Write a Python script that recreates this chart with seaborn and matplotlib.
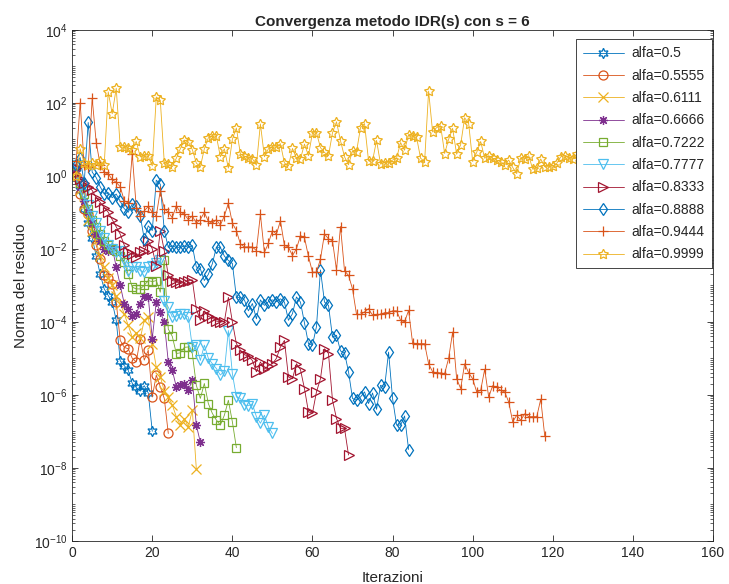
import numpy as np
import pandas as pd
import matplotlib
matplotlib.use("Agg")
import matplotlib.pyplot as plt
from matplotlib.ticker import LogLocator, NullFormatter
import seaborn as sns

# legenda
alfa_labels = ['alfa=0.5', 'alfa=0.5555', 'alfa=0.6111', 'alfa=0.6666', 'alfa=0.7222',
               'alfa=0.7777', 'alfa=0.8333', 'alfa=0.8888', 'alfa=0.9444', 'alfa=0.9999']

# esponenti (log10) della norma del residuo, iterazioni 1..N
exp_05 = [0.2, -0.4, -0.9, -1.3, -1.7, -2.2, -2.7, -3.1, -3.28, -3.46, -3.96, -5.07, -5.2,
          -5.33, -5.69, -5.8, -5.9, -5.75, -5.95, -7.0]

exp_05555 = [0.0, -0.5, -0.9, -1.04, -1.5, -1.9, -2.27, -2.73, -2.8, -2.96, -3.46, -4.51, -4.7,
             -4.74, -5.0, -5.1, -4.46, -5.05, -4.78, -6.06, -5.46, -5.78, -6.1, -7.06]

exp_06111 = [0.1, -0.4, -0.8, -1.2, -1.5, -1.8, -2.2, -2.5, -2.8, -3.0, -3.3, -3.5, -3.78,
             -4.1, -4.42, -4.3, -4.45, -3.96, -3.87, -4.6, -5.24, -5.5, -5.9, -6.06, -6.28,
             -6.6, -6.83, -6.65, -6.88, -6.42, -8.03]

exp_06666 = [0.2, -0.3, -0.7, -1.0, -1.3, -1.6, -1.8, -2.0, -2.05, -1.96, -2.5, -3.0, -3.5,
             -3.64, -3.83, -3.78, -3.5, -3.3, -3.33, -4.46, -3.46, -3.73, -4.01, -5.1, -5.33,
             -5.78, -5.74, -5.7, -5.87, -5.6, -6.83, -7.3]

exp_07222 = [0.3, -0.2, -0.5, -0.9, -1.2, -1.4, -1.6, -1.8, -1.9, -2.0, -2.05, -2.2, -2.37,
             -2.7, -3.05, -3.1, -3.1, -3.0, -2.87, -2.9, -2.87, -3.19, -2.32, -4.2, -4.4,
             -4.87, -4.85, -4.7, -4.69, -4.87, -5.74, -6.1, -5.69, -6.24, -6.51, -6.69, -6.83,
             -6.56, -6.15, -6.74, -7.45]

exp_07777 = [0.3, -0.2, -0.5, -0.8, -1.1, -1.3, -1.5, -1.7, -1.9, -2.0, -2.1, -2.05, -2.3,
             -2.6, -2.5, -2.5, -2.6, -2.64, -2.5, -2.46, -2.4, -2.32, -3.42, -3.6, -3.87,
             -3.85, -3.78, -3.8, -3.87, -4.69, -4.64, -5.06, -4.64, -5.0, -5.15, -5.28, -5.46,
             -5.35, -4.24, -5.42, -6.06, -6.1, -6.28, -6.3, -6.25, -6.6, -6.78, -6.56, -6.88,
             -7.06]

exp_08333 = [0.2, -0.1, -0.2, -0.3, -0.4, -0.6, -0.73, -0.87, -1.0, -1.2, -1.4, -1.6, -1.9,
             -2.1, -2.14, -2.23, -2.1, -2.05, -1.78, -2.0, -2.46, -1.5, -2.05, -2.73, -2.87,
             -2.9, -2.95, -2.92, -2.87, -2.85, -3.65, -3.96, -3.7, -3.85, -3.9, -3.98, -4.0,
             -4.0, -3.33, -4.0, -4.6, -4.78, -4.9, -4.95, -5.06, -5.37, -5.1, -5.3, -5.2,
             -5.15, -5.0, -4.69, -4.51, -5.51, -5.56, -5.15, -5.31, -5.83, -6.47, -6.5, -5.92,
             -5.56, -4.74, -4.87, -6.15, -6.65, -6.92, -6.92, -7.65]

exp_08888 = [0.3, 0.5, -0.2, 1.46, 0.1, -0.05, -0.3, -0.5, -0.46, -0.6, -0.5, -0.7, -0.9,
             -1.0, -0.77, -0.82, -1.1, -1.73, -1.37, -1.5, -0.12, -0.23, -1.5, -1.96, -1.92,
             -1.96, -1.96, -1.92, -1.96, -1.91, -2.5, -2.55, -2.87, -2.7, -2.41, -1.96, -1.96,
             -2.2, -2.32, -2.4, -3.33, -3.33, -3.4, -3.7, -3.5, -3.92, -3.4, -3.55, -3.45,
             -3.4, -3.45, -3.37, -3.46, -3.96, -3.78, -3.32, -3.46, -4.03, -4.6, -4.64, -4.13,
             -2.58, -3.46, -3.55, -4.42, -4.37, -4.8, -4.85, -5.37, -6.1, -6.15, -6.06, -5.92,
             -6.24, -5.95, -6.4, -5.74, -5.8, -4.83, -6.1, -6.83, -6.83, -6.58, -7.5]

exp_09444 = [0.4, 2.0, 0.3, 0.25, 2.12, 0.91, 0.3, 0.09, 0.05, -0.1, -0.18, -0.3, -0.68,
             -0.75, 0.6, -0.87, -1.1, -0.96, -0.84, -1.0, -1.1, -0.41, -0.9, -1.0, -1.15,
             -0.82, -1.0, -1.05, -1.2, -1.1, -1.3, -1.2, -1.0, -1.25, -1.3, -1.2, -1.35, -1.1,
             -0.75, -1.3, -1.5, -1.87, -1.95, -1.95, -1.95, -2.05, -1.06, -2.1, -1.85, -1.5,
             -1.6, -1.23, -1.91, -1.95, -2.19, -2.0, -1.64, -1.69, -2.21, -2.64, -2.64, -2.28,
             -1.59, -1.73, -1.78, -2.58, -1.39, -2.6, -2.73, -3.1, -3.8, -3.8, -3.73, -3.64,
             -3.82, -3.8, -3.8, -3.75, -3.75, -3.7, -3.7, -3.96, -4.0, -3.69, -4.58, -4.6,
             -4.6, -4.6, -5.15, -5.37, -5.4, -5.4, -5.42, -5.0, -4.28, -5.56, -5.83, -5.15,
             -5.4, -5.56, -5.92, -5.88, -5.3, -6.06, -5.75, -5.8, -5.88, -5.92, -6.2, -6.74,
             -6.56, -6.7, -6.52, -6.6, -6.6, -6.6, -6.12, -7.13]

exp_09999 = [0.0, 0.74, 0.35, 0.3, 0.35, 0.3, 0.4, 0.3, 2.3, 1.7, 2.4, 0.79, 0.78, 0.76,
             0.72, 0.94, 0.52, 0.54, 0.54, 0.27, 2.16, 2.07, 0.36, 0.32, 0.25, 0.48, 0.74,
             0.98, 0.93, 0.72, 0.35, 0.24, 0.74, 1.04, 1.09, 1.09, 0.52, 0.74, 0.21, 1.0,
             1.31, 0.6, 0.54, 0.49, 0.47, 0.29, 1.42, 0.52, 0.74, 0.79, 0.79, 0.88, 0.35,
             0.27, 0.75, 0.48, 0.46, 0.87, 0.55, 1.18, 1.18, 0.77, 0.64, 0.55, 1.18, 1.48,
             0.96, 0.52, 0.3, 0.68, 0.66, 1.32, 1.43, 0.41, 0.41, 0.97, 0.32, 0.36, 0.36,
             0.43, 0.48, 0.91, 0.70, 1.12, 1.09, 1.05, 0.48, 0.39, 2.32, 1.2, 1.32, 1.37,
             0.61, 1.0, 1.30, 0.59, 0.85, 1.59, 1.43, 0.39, 0.64, 0.94, 0.48, 0.55, 0.48,
             0.43, 0.39, 0.3, 0.43, 0.23, 0.06, 0.48, 0.46, 0.55, 0.18, 0.21, 0.46, 0.25,
             0.25, 0.27, 0.34, 0.52, 0.55, 0.5, 0.45, 0.6, 0.4, 0.5]

all_exps = [exp_05, exp_05555, exp_06111, exp_06666, exp_07222,
            exp_07777, exp_08333, exp_08888, exp_09444, exp_09999]

# colori e marker stile MATLAB
colori = ['#0072BD', '#D95319', '#EDB120', '#7E2F8E', '#77AC30',
          '#4DBEEE', '#A2142F', '#0072BD', '#D95319', '#EDB120']
marker = [(6, 1, 0), 'o', 'x', (8, 2, 0), 's', 'v', '>', 'd', '+', (5, 1, 0)]
dim_marker = [7.5, 6.5, 6.5, 6.5, 6, 6.5, 7, 6.5, 7.5, 7.5]

sns.set_style('ticks')
plt.rcParams['font.family'] = ['Liberation Sans', 'DejaVu Sans']
plt.rcParams['axes.edgecolor'] = '#262626'
plt.rcParams['xtick.color'] = '#262626'
plt.rcParams['ytick.color'] = '#262626'

fig = plt.figure(figsize=(7.29, 5.84), dpi=100)
ax = fig.add_axes([0.099, 0.074, 0.879, 0.875])
ax.set_yscale('log')

for lab, exps, col, mk, ms in zip(alfa_labels, all_exps, colori, marker, dim_marker):
    df = pd.DataFrame({'Iterazioni': np.arange(1, len(exps) + 1),
                       'Norma': 10.0 ** np.array(exps)})
    sns.lineplot(data=df, x='Iterazioni', y='Norma', ax=ax, color=col, marker=mk,
                 markersize=ms, markerfacecolor='none', markeredgecolor=col,
                 markeredgewidth=0.9, linewidth=0.6, label=lab,
                 estimator=None, errorbar=None)

ax.set_xlim(0, 160)
ax.set_xticks(range(0, 161, 20))
ax.set_ylim(1e-10, 1e4)
ax.set_yticks([10.0 ** k for k in range(-10, 5, 2)])
ax.yaxis.set_minor_locator(LogLocator(base=10, subs=np.arange(1, 10), numticks=100))
ax.yaxis.set_minor_formatter(NullFormatter())
ax.tick_params(which='both', direction='in', top=True, right=True, labelsize=10)
ax.tick_params(which='major', length=4, width=0.6)
ax.tick_params(which='minor', length=2, width=0.5)
for sp in ax.spines.values():
    sp.set_linewidth(0.6)

ax.set_title('Convergenza metodo IDR(s) con s = 6', fontsize=11, fontweight='bold', pad=3)
ax.set_xlabel('Iterazioni', fontsize=11, labelpad=8)
ax.set_ylabel('Norma del residuo', fontsize=11)

leg = ax.legend(ax.lines, alfa_labels, loc='upper right', bbox_to_anchor=(0.998, 0.981),
                borderaxespad=0, fontsize=10, frameon=True, fancybox=False,
                framealpha=1, edgecolor='#262626', handlelength=3.0,
                labelspacing=0.6, borderpad=0.5, handletextpad=0.5)
leg.get_frame().set_linewidth(0.6)

fig.savefig('out.png', dpi=100)
